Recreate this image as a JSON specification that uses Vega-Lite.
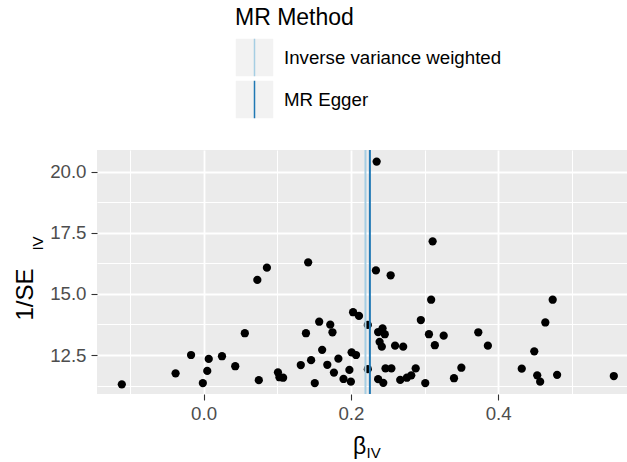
{
  "$schema": "https://vega.github.io/schema/vega-lite/v6.json",
  "autosize": {"type": "none"},
  "padding": {"left": 97, "top": 150, "right": 0, "bottom": 68},
  "width": 530,
  "height": 244,
  "background": "white",
  "config": {
    "view": {"fill": "#EBEBEB", "stroke": null},
    "font": "Liberation Sans",
    "axis": {"domain": false, "gridColor": "white", "labelFont": "Liberation Sans", "titleFont": "Liberation Sans", "titleFontWeight": "normal", "titleColor": "black"},
    "legend": {"labelFont": "Liberation Sans", "titleFont": "Liberation Sans", "rowPadding": -3.5}
  },
  "datasets": {
    "points": [
      {"beta": -0.111, "inv_se": 11.30}, {"beta": -0.038, "inv_se": 11.75}, {"beta": -0.017, "inv_se": 12.50},
      {"beta": -0.001, "inv_se": 11.35}, {"beta": 0.005, "inv_se": 11.85}, {"beta": 0.007, "inv_se": 12.34},
      {"beta": 0.025, "inv_se": 12.45}, {"beta": 0.043, "inv_se": 12.04}, {"beta": 0.056, "inv_se": 13.39},
      {"beta": 0.073, "inv_se": 15.57}, {"beta": 0.075, "inv_se": 11.47}, {"beta": 0.086, "inv_se": 16.07},
      {"beta": 0.101, "inv_se": 11.79}, {"beta": 0.103, "inv_se": 11.59}, {"beta": 0.108, "inv_se": 11.57},
      {"beta": 0.132, "inv_se": 12.09}, {"beta": 0.139, "inv_se": 13.39}, {"beta": 0.142, "inv_se": 16.29},
      {"beta": 0.146, "inv_se": 12.29}, {"beta": 0.151, "inv_se": 11.35}, {"beta": 0.157, "inv_se": 13.86},
      {"beta": 0.161, "inv_se": 12.71}, {"beta": 0.168, "inv_se": 12.10}, {"beta": 0.172, "inv_se": 13.74},
      {"beta": 0.175, "inv_se": 13.43}, {"beta": 0.177, "inv_se": 11.78}, {"beta": 0.183, "inv_se": 12.35},
      {"beta": 0.190, "inv_se": 11.52}, {"beta": 0.198, "inv_se": 11.89}, {"beta": 0.200, "inv_se": 11.41},
      {"beta": 0.201, "inv_se": 12.61}, {"beta": 0.207, "inv_se": 12.50}, {"beta": 0.203, "inv_se": 14.25},
      {"beta": 0.211, "inv_se": 14.10}, {"beta": 0.223, "inv_se": 13.73}, {"beta": 0.223, "inv_se": 11.92},
      {"beta": 0.235, "inv_se": 20.41}, {"beta": 0.234, "inv_se": 15.96}, {"beta": 0.254, "inv_se": 15.76},
      {"beta": 0.237, "inv_se": 13.44}, {"beta": 0.243, "inv_se": 13.59}, {"beta": 0.246, "inv_se": 13.35},
      {"beta": 0.239, "inv_se": 13.04}, {"beta": 0.242, "inv_se": 12.84}, {"beta": 0.260, "inv_se": 12.88},
      {"beta": 0.271, "inv_se": 12.84}, {"beta": 0.247, "inv_se": 11.95}, {"beta": 0.255, "inv_se": 11.95},
      {"beta": 0.237, "inv_se": 11.51}, {"beta": 0.244, "inv_se": 11.36}, {"beta": 0.267, "inv_se": 11.48},
      {"beta": 0.276, "inv_se": 11.57}, {"beta": 0.282, "inv_se": 11.67}, {"beta": 0.288, "inv_se": 11.95},
      {"beta": 0.295, "inv_se": 13.93}, {"beta": 0.301, "inv_se": 11.35}, {"beta": 0.306, "inv_se": 13.35},
      {"beta": 0.309, "inv_se": 14.76}, {"beta": 0.311, "inv_se": 17.15}, {"beta": 0.314, "inv_se": 12.90},
      {"beta": 0.326, "inv_se": 13.29}, {"beta": 0.340, "inv_se": 11.55}, {"beta": 0.350, "inv_se": 11.98},
      {"beta": 0.373, "inv_se": 13.43}, {"beta": 0.386, "inv_se": 12.88}, {"beta": 0.432, "inv_se": 11.94},
      {"beta": 0.449, "inv_se": 12.65}, {"beta": 0.453, "inv_se": 11.67}, {"beta": 0.457, "inv_se": 11.41},
      {"beta": 0.464, "inv_se": 13.83}, {"beta": 0.474, "inv_se": 14.76}, {"beta": 0.480, "inv_se": 11.69},
      {"beta": 0.557, "inv_se": 11.64}
    ],
    "lines": [
      {"method": "Inverse variance weighted", "b": 0.2198},
      {"method": "MR Egger", "b": 0.2258}
    ]
  },
  "resolve": {"axis": {"x": "independent", "y": "independent"}},
  "layer": [
    {
      "data": {"name": "points"},
      "mark": {"type": "circle", "size": 68, "color": "black", "opacity": 1},
      "encoding": {
        "x": {
          "field": "beta", "type": "quantitative",
          "scale": {"domain": [-0.1447, 0.5749], "nice": false, "zero": false},
          "axis": {
            "orient": "bottom", "values": [0, 0.2, 0.4], "format": ".1f",
            "grid": true, "gridWidth": 1.8,
            "ticks": true, "tickColor": "#333333", "tickSize": 6, "tickWidth": 1.1,
            "labelFontSize": 18.7, "labelColor": "#4D4D4D", "labelPadding": 4,
            "title": "β", "titleFontSize": 23, "titleAlign": "center", "titleBaseline": "alphabetic",
            "titleX": 262, "titleY": 59, "titleAngle": 0
          }
        },
        "y": {
          "field": "inv_se", "type": "quantitative",
          "scale": {"domain": [10.905, 20.884], "nice": false, "zero": false},
          "axis": {
            "orient": "left", "values": [12.5, 15, 17.5, 20], "format": ".1f",
            "grid": true, "gridWidth": 1.8,
            "ticks": true, "tickColor": "#333333", "tickSize": 6, "tickWidth": 1.1,
            "labelFontSize": 18.7, "labelColor": "#4D4D4D", "labelPadding": 5,
            "title": "1/SE", "titleFontSize": 24, "titleAngle": -90, "titleAlign": "center", "titleBaseline": "alphabetic",
            "titleX": -65, "titleY": 144
          }
        }
      }
    },
    {
      "data": {"name": "lines"},
      "mark": {"type": "square", "filled": true, "opacity": 0, "size": 1},
      "encoding": {
        "x": {
          "field": "b", "type": "quantitative",
          "scale": {"domain": [-0.1447, 0.5749], "nice": false, "zero": false},
          "axis": {
            "orient": "bottom", "values": [-0.1, 0.1, 0.3, 0.5],
            "grid": true, "gridWidth": 1, "ticks": false, "labels": false,
            "title": "IV", "titleFontSize": 15, "titleAlign": "left", "titleBaseline": "alphabetic",
            "titleX": 269, "titleY": 63, "titleAngle": 0
          }
        },
        "y": {
          "datum": 15, "type": "quantitative",
          "scale": {"domain": [10.905, 20.884], "nice": false, "zero": false},
          "axis": {
            "orient": "left", "values": [11.25, 13.75, 16.25, 18.75],
            "grid": true, "gridWidth": 1, "ticks": false, "labels": false,
            "title": "IV", "titleFontSize": 15, "titleAngle": -90, "titleAlign": "center", "titleBaseline": "alphabetic",
            "titleX": -55, "titleY": 93
          }
        },
        "fill": {
          "field": "method", "type": "nominal",
          "scale": {"range": ["#F2F2F2", "#F2F2F2"]},
          "legend": {
            "orient": "none", "legendX": 138, "legendY": -143, "padding": 0,
            "title": "MR Method", "titleFontSize": 23, "titleFontWeight": "normal", "titleOpacity": 0, "titlePadding": 8,
            "labelFontSize": 18.7, "labelOpacity": 0, "labelOffset": 10, "labelLimit": 400,
            "symbolType": "square", "symbolSize": 1406, "symbolStrokeWidth": 1.5, "symbolStrokeColor": "transparent",
            "symbolOpacity": 1
          }
        }
      }
    },
    {
      "data": {"name": "lines"},
      "mark": {"type": "rule", "strokeWidth": 2},
      "encoding": {
        "x": {"field": "b", "type": "quantitative", "scale": {"domain": [-0.1447, 0.5749], "nice": false, "zero": false}, "axis": null},
        "stroke": {
          "field": "method", "type": "nominal",
          "scale": {"domain": ["Inverse variance weighted", "MR Egger"], "range": ["#A6CEE3", "#1F78B4"]},
          "legend": {
            "orient": "none", "legendX": 138, "legendY": -143, "padding": 0,
            "title": "MR Method", "titleFontSize": 23, "titleFontWeight": "normal", "titleColor": "black", "titlePadding": 8,
            "labelFontSize": 18.7, "labelColor": "black", "labelOffset": 10, "labelLimit": 400,
            "symbolType": "M0,-1V1", "symbolSize": 1406, "symbolStrokeWidth": 1.5, "symbolFillColor": "transparent"
          }
        }
      }
    }
  ]
}
